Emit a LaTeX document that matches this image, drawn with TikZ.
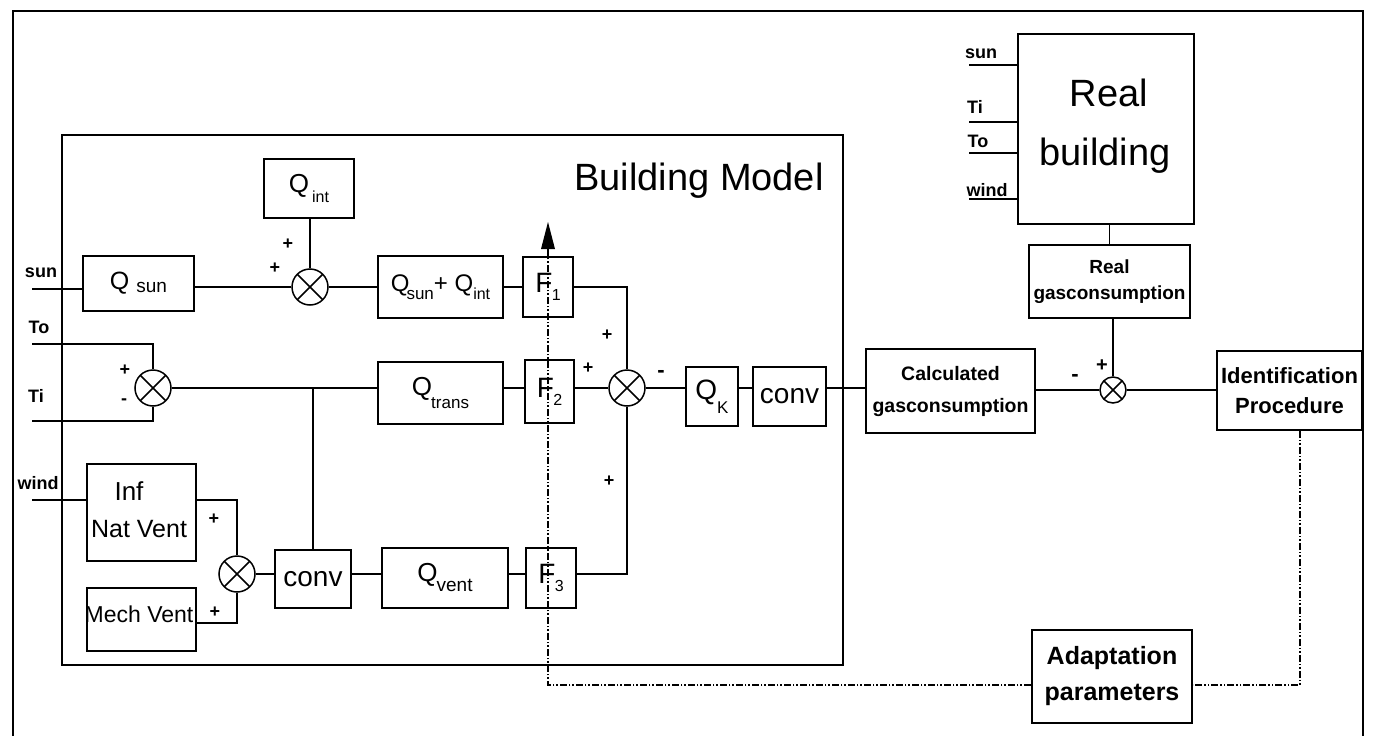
\documentclass[tikz,border=0pt]{standalone}
\usepackage{fontspec}
\setmainfont{Liberation Sans}
\usetikzlibrary{arrows.meta,calc}
\newcommand\fs[1]{\fontsize{#1}{#1}\selectfont}
\newcommand\fsl[2]{\fontsize{#1}{#2}\selectfont}
\newcommand\lowr[3]{\raisebox{-#1}{\fs{#2}#3}}
\begin{document}
\begin{tikzpicture}[x=1pt,y=-1pt,
  box/.style={draw,line width=1.8pt,inner sep=0pt},
  ln/.style={line width=1.5pt},
  frame/.style={line width=2pt},
  sumc/.style={circle,draw,line width=1.5pt,minimum size=#1,inner sep=0pt,
    path picture={\draw[line width=1.5pt]
      (path picture bounding box.north west)--(path picture bounding box.south east)
      (path picture bounding box.north east)--(path picture bounding box.south west);}},
  sumc/.default=36pt,
  sg/.style={font=\fs{18}\bfseries,inner sep=0pt},
  inl/.style={font=\fs{18}\bfseries,inner sep=0pt},
  dd/.style={line width=1.3pt,dash pattern=on 7pt off 2pt on 1.5pt off 2pt on 1.5pt off 2pt}]
\useasboundingbox (0,0) rectangle (1376,736);
\fill[white] (0,0) rectangle (1376,736);
% outer frame
\draw[frame] (13,736) -- (13,11) -- (1363,11) -- (1363,736);
% building model
\node[draw,line width=2.5pt,minimum width=781pt,minimum height=530pt] (bm) at (452.5,400) {};
\node[font=\fs{38},anchor=base,inner sep=0pt] (bmT) at (699,190) {Building Model};
% blocks
\node[box,minimum width=90pt,minimum height=59pt] (qint) at (309,188.5) {\fs{26}Q\hspace{3pt}\lowr{10pt}{16}{int}};
\node[box,minimum width=111pt,minimum height=55pt] (qsun) at (138.5,283.5) {\fs{25}Q \lowr{3pt}{19}{sun}};
\node[box,minimum width=125pt,minimum height=62pt] (qsi) at (440.5,287) {\fs{24}Q\hspace{-3pt}\lowr{8pt}{17}{sun}+ Q\lowr{8pt}{16}{int}};
\node[box,minimum width=50pt,minimum height=60pt] (f1) at (548,287) {\fs{28}F\hspace{-0.5pt}\lowr{8pt}{16}{1}};
\node[box,minimum width=49pt,minimum height=63pt] (f2) at (549.5,391.5) {\fs{28}F\hspace{-0.5pt}\lowr{8pt}{16}{2}};
\node[box,minimum width=50pt,minimum height=60pt] (f3) at (551,578) {\fs{28}F\hspace{-0.5pt}\lowr{8pt}{16}{3}};
\node[box,minimum width=125pt,minimum height=62pt] (qtrans) at (440.5,393) {\fs{26}Q\hspace{-1pt}\lowr{13pt}{17}{trans}};
\node[box,minimum width=126pt,minimum height=60pt] (qvent) at (445,578) {\fs{26}Q\hspace{-1pt}\lowr{10pt}{19}{vent}};
\node[box,minimum width=76pt,minimum height=58pt,font=\fs{28}] (conv1) at (313,579) {conv};
\node[box,minimum width=109pt,minimum height=97pt] (inf) at (141.5,512.5) {};
\node[font=\fs{26},anchor=base,inner sep=0pt] (infT) at (129,500) {Inf};
\node[font=\fs{25},anchor=base,inner sep=0pt] (natT) at (139,537) {Nat Vent};
\node[box,minimum width=109pt,minimum height=63pt] (mech) at (141.5,619.5) {};
\node[font=\fs{23},anchor=base,inner sep=0pt] (mechT) at (139,622) {Mech Vent};
\node[box,minimum width=52pt,minimum height=59pt] (qk) at (712,396.5) {\fs{28}Q\lowr{14pt}{17}{K}};
\node[box,minimum width=73pt,minimum height=59pt,font=\fs{28}] (conv2) at (789.5,396.5) {conv};
\node[box,minimum width=169pt,minimum height=84pt,align=center,font=\fsl{19.5}{32}\bfseries] (calc) at (950.5,391) {Calculated\\gasconsumption};
\node[box,minimum width=145pt,minimum height=79pt,align=center,font=\fsl{22}{30}\bfseries] (ident) at (1289.5,390.5) {Identification\\Procedure};
\node[box,minimum width=161pt,minimum height=73pt,align=center,font=\fsl{19}{26}\bfseries] (realgas) at (1109.5,281.5) {Real\\gasconsumption};
\node[box,minimum width=176pt,minimum height=190pt] (realb) at (1106,129) {};
\node[font=\fs{38},anchor=base,inner sep=0pt] (rbT1) at (1109,106) {Real};
\node[font=\fs{38},anchor=base,inner sep=0pt] (rbT2) at (1105,165) {building};
\node[box,line width=2.2pt,minimum width=160pt,minimum height=93pt,align=center,font=\fsl{25}{36}\bfseries] (adapt) at (1112,676.5) {Adaptation\\parameters};
% summing junctions
\node[sumc] (s1) at (310,287) {};
\node[sumc] (s2) at (153,388) {};
\node[sumc] (s3) at (237,574) {};
\node[sumc] (s4) at (627,388) {};
\node[sumc=26pt] (s5) at (1113,390) {};
% input labels
\node[inl] (lsun) at (41,273) {sun};
\node[inl] (lto) at (39,327) {To};
\node[inl] (lti) at (36,396) {Ti};
\node[inl] (lwind) at (38,483) {wind};
\node[inl] (rsunL) at (981,54) {sun};
\node[inl] (rtiL) at (975,107) {Ti};
\node[inl] (rtoL) at (978,141) {To};
\node[inl] (rwindL) at (987,190) {wind};
\coordinate (sunin) at (32,289);
\coordinate (toin) at (32,344);
\coordinate (tiin) at (32,421);
\coordinate (windin) at (32,500);
\coordinate (rsun) at (969,65);
\coordinate (rti) at (969,122);
\coordinate (rto) at (969,153);
\coordinate (rwind) at (969,199);
% signs
\node[sg] (p1) at (288,244) {+};
\node[sg] (p2) at (275,268) {+};
\node[sg] (p3) at (125,370) {+};
\node[sg] (m1) at (124,402) {-};
\node[sg] (p4) at (214,519) {+};
\node[sg] (p5) at (215,612) {+};
\node[sg] (p6) at (607,335) {+};
\node[sg] (p7) at (588,368) {+};
\node[sg,font=\fs{22}\bfseries] (m2) at (661,374) {-};
\node[sg] (p8) at (609,481) {+};
\node[sg,font=\fs{22}\bfseries] (m3) at (1075,378) {-};
\node[sg,font=\fs{20}\bfseries] (p9) at (1102,366) {+};
% connectors
\draw[ln] (sunin) -- (sunin -| qsun.west);
\draw[ln] (s1 -| qsun.east) -- (s1.west);
\draw[ln] (qint.south -| s1) -- (s1.north);
\draw[ln] (s1.east) -- (s1 -| qsi.west);
\draw[ln] (s1 -| qsi.east) -- (s1 -| f1.west);
\draw[ln] (s1 -| f1.east) -| (s4.north);
\draw[ln] (toin) -| (s2.north);
\draw[ln] (tiin) -| (s2.south);
\draw[ln] (s2.east) -- (s2 -| qtrans.west);
\draw[ln] (conv1.north |- s2) -- (conv1.north);
\draw[ln] (s2 -| qtrans.east) -- (s2 -| f2.west);
\draw[ln] (s2 -| f2.east) -- (s4.west);
\draw[ln] (windin) -- (windin -| inf.west);
\draw[ln] (inf.east |- windin) -| (s3.north);
\draw[ln] (mech.east |- 0,623) -| (s3.south);
\draw[ln] (s3.east) -- (s3 -| conv1.west);
\draw[ln] (s3 -| conv1.east) -- (s3 -| qvent.west);
\draw[ln] (s3 -| qvent.east) -- (s3 -| f3.west);
\draw[ln] (s3 -| f3.east) -| (s4.south);
\draw[ln] (s4.east) -- (s4 -| qk.west);
\draw[ln] (s4 -| qk.east) -- (s4 -| conv2.west);
\draw[ln] (s4 -| conv2.east) -- (s4 -| calc.west);
\draw[ln] (s5 -| calc.east) -- (s5.west);
\draw[ln] (s5.east) -- (s5 -| ident.west);
\draw[ln] (realgas.south -| s5) -- (s5.north);
\draw[ln] (realb.south -| realgas.north) -- (realgas.north);
\draw[ln] (rsun) -- (rsun -| realb.west);
\draw[ln] (rti) -- (rti -| realb.west);
\draw[ln] (rto) -- (rto -| realb.west);
\draw[ln] (rwind) -- (rwind -| realb.west);
% feedback (dash-dot)
\coordinate (fbr) at (1300,685);
\coordinate (fbl) at (548,685);
\coordinate (tip) at (548,222);
\draw[dd] (ident.south -| fbr) -- (fbr) -- (fbr -| adapt.east);
\draw[dd] (fbr -| adapt.west) -- (fbl) -- ($(tip)+(0,26)$);
\fill (tip) -- ($(tip)+(-7,27)$) -- ($(tip)+(7,27)$) -- cycle;
\end{tikzpicture}
\end{document}
